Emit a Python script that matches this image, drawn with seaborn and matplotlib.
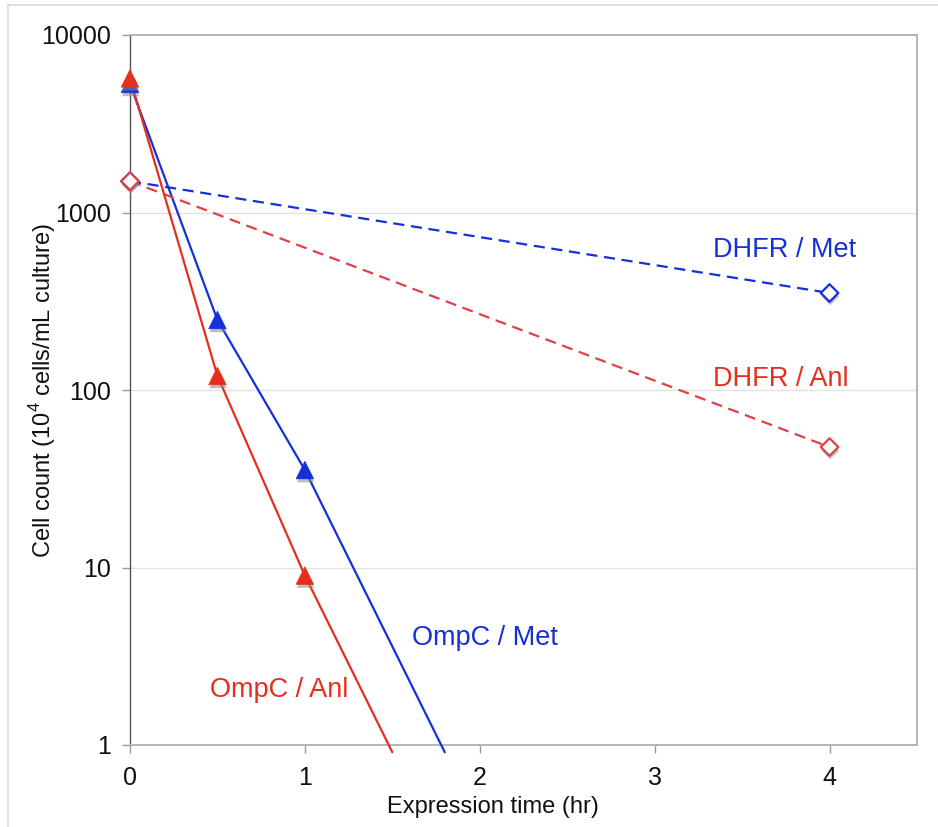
import numpy as np
import pandas as pd
import matplotlib
matplotlib.use("Agg")
import matplotlib.pyplot as plt
import matplotlib.patheffects as pe
from matplotlib.patches import Rectangle
from matplotlib.ticker import FixedLocator, FixedFormatter, NullLocator
import seaborn as sns

# ---- data ----
ompc_met_time = [0, 0.5, 1, 1.8]
ompc_met_vals = [5300, 248, 35.4, 0.91]
ompc_anl_time = [0, 0.5, 1, 1.5]
ompc_anl_vals = [5700, 120, 9.0, 0.91]
dhfr_met_time = [0, 4]
dhfr_met_vals = [1500, 352]
dhfr_anl_time = [0, 4]
dhfr_anl_vals = [1500, 47.7]

x_ticks = [0, 1, 2, 3, 4]
y_ticks = [1, 10, 100, 1000, 10000]
y_tick_labels = ["1", "10", "100", "1000", "10000"]

BLUE = "#1530d8"
RED = "#e62e1e"
RED_D = "#e04048"

sns.set_theme(style="white")
plt.rcParams["font.family"] = ["Liberation Sans", "DejaVu Sans"]
plt.rcParams["mathtext.fontset"] = "custom"
plt.rcParams["mathtext.rm"] = "Liberation Sans"

fig = plt.figure(figsize=(9.38, 8.27), dpi=100)
ax = fig.add_axes([130 / 938, 1 - 745 / 827, (917 - 130) / 938, (745 - 35) / 827])

series = [
    ("OmpC / Met", ompc_met_time, ompc_met_vals, BLUE, "-", "^", BLUE),
    ("DHFR / Met", dhfr_met_time, dhfr_met_vals, BLUE, (0, (5, 3)), "D", BLUE),
    ("DHFR / Anl", dhfr_anl_time, dhfr_anl_vals, RED_D, (0, (5, 3)), "D", RED_D),
    ("OmpC / Anl", ompc_anl_time, ompc_anl_vals, RED, "-", "^", RED),
]

shadow = [pe.SimplePatchShadow(offset=(0.5, -2.5), shadow_rgbFace="#8a8a8a", alpha=0.55), pe.Normal()]

for i, (name, t, v, col, ls, mk, mcol) in enumerate(series):
    df = pd.DataFrame({"t": t, "v": v})
    sns.lineplot(data=df, x="t", y="v", ax=ax, color=col, linewidth=1.6,
                 linestyle=ls, sort=False, estimator=None, clip_on=False, zorder=3 + i)
    pts = df[df["v"] >= 1]
    if mk == "^":
        sns.scatterplot(data=pts, x="t", y="v", ax=ax, marker="^", s=160,
                        color=mcol, edgecolor=mcol, linewidth=0.5, zorder=10 + i,
                        clip_on=False)
    else:
        sns.scatterplot(data=pts, x="t", y="v", ax=ax, marker="D", s=80,
                        facecolor="white", edgecolor=mcol, linewidth=1.6, zorder=10 + i,
                        clip_on=False)
    ax.collections[-1].set_path_effects(shadow)

ax.set_yscale("log")
ax.set_xlim(0, 4.5)
ax.set_ylim(1, 10000)
ax.yaxis.set_major_locator(FixedLocator(y_ticks))
ax.yaxis.set_major_formatter(FixedFormatter(y_tick_labels))
ax.yaxis.set_minor_locator(NullLocator())
ax.set_xticks(x_ticks)
ax.set_xticklabels([str(x) for x in x_ticks])

ax.grid(False)
for yv in y_ticks[1:-1]:
    ax.axhline(yv, color="#e2e2e2", lw=1.0, zorder=0)

for s in ["top", "right", "bottom"]:
    ax.spines[s].set_color("#b4b4b4")
    ax.spines[s].set_linewidth(1.4)
ax.spines["left"].set_color("#555555")
ax.spines["left"].set_linewidth(1.0)

ax.tick_params(axis="both", which="major", direction="out", length=6, width=1,
               color="#999999", labelsize=18, labelcolor="#111111",
               bottom=True, left=True)
ax.tick_params(axis="x", pad=9)
ax.tick_params(axis="y", pad=8)

ax.set_xlabel("Expression time (hr)", fontsize=17, color="#111111")
ax.xaxis.set_label_coords(0.461, -0.072)
ax.set_ylabel(r"Cell count (10$^{\mathregular{4}}$ cells/mL culture)", fontsize=17, color="#111111")
ax.yaxis.set_label_coords(-0.092, 0.5)

# series labels
ax.text(3.74, 615, "DHFR / Met", color=BLUE, fontsize=19.5, ha="center", va="center")
ax.text(3.72, 115, "DHFR / Anl", color=RED, fontsize=19.5, ha="center", va="center")
ax.text(2.03, 4.0, "OmpC / Met", color=BLUE, fontsize=19.5, ha="center", va="center")
ax.text(0.852, 2.04, "OmpC / Anl", color=RED, fontsize=19.5, ha="center", va="center")

# outer frame
fig.add_artist(Rectangle((8 / 938, -0.1), 2, 1 - 5 / 827 + 0.1, transform=fig.transFigure,
                         fill=False, edgecolor="#d9d9d9", lw=1.2))

fig.savefig("out.png", dpi=100, facecolor="white")
